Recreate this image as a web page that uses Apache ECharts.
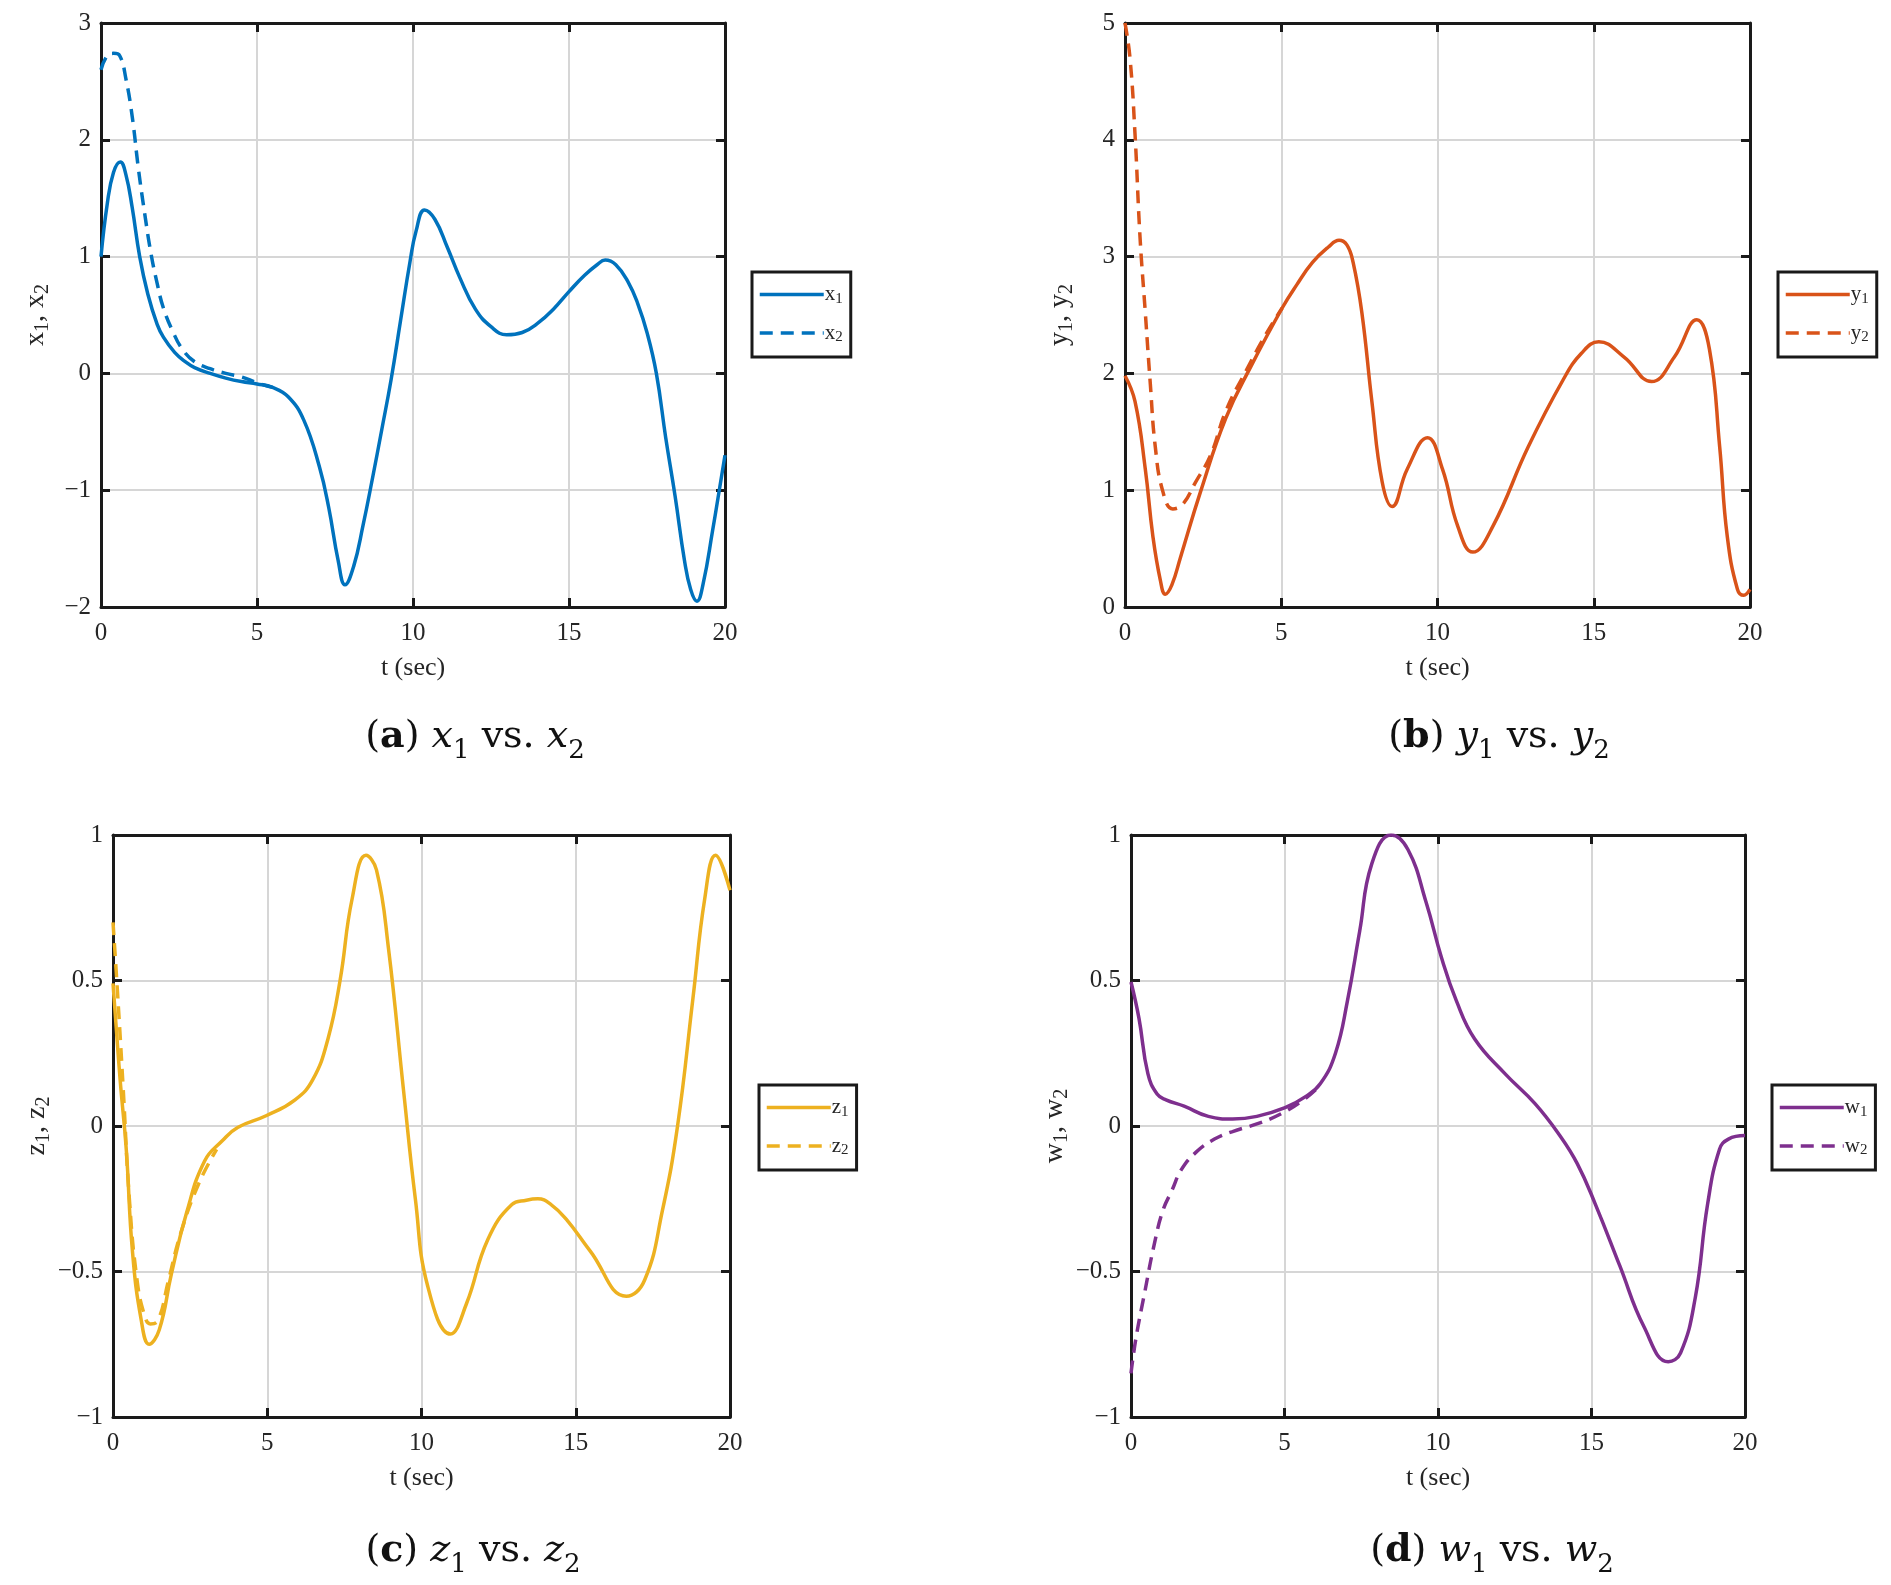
<!DOCTYPE html>
<html>
<head>
<meta charset="utf-8">
<title>x, y, z, w responses</title>
<script src="https://cdn.jsdelivr.net/npm/echarts@6/dist/echarts.min.js"></script>
<style>
  html, body { margin: 0; padding: 0; background: #fff; }
  #chart { width: 1891px; height: 1585px; }
</style>
</head>
<body>
<div id="chart"></div>
<script>
// ---- data (t in sec) ----
var tX1 = [0, 0.2, 0.4, 0.62, 0.8, 1.0, 1.24, 1.5, 1.8, 2.0, 2.36, 2.7, 3.0, 3.5, 4.0, 4.5, 5.0, 5.5, 6.0, 6.5, 7.0, 7.3, 7.6, 7.82, 8.1, 8.4, 8.7, 9.0, 9.3, 9.6, 9.9, 10.1, 10.37, 10.7, 11.1, 11.5, 12.0, 12.5, 13.0, 13.5, 14.0, 14.5, 15.0, 15.5, 15.9, 16.16, 16.5, 16.9, 17.2, 17.5, 17.8, 18.1, 18.4, 18.7, 18.9, 19.1, 19.3, 19.6, 20];
var x1  = [1.0, 1.45, 1.72, 1.81, 1.7, 1.42, 1.0, 0.68, 0.42, 0.31, 0.18, 0.1, 0.05, 0.0, -0.04, -0.07, -0.09, -0.12, -0.2, -0.4, -0.8, -1.15, -1.6, -1.81, -1.65, -1.3, -0.9, -0.48, -0.05, 0.45, 0.95, 1.22, 1.4, 1.32, 1.08, 0.82, 0.55, 0.4, 0.33, 0.35, 0.43, 0.55, 0.7, 0.84, 0.93, 0.97, 0.93, 0.78, 0.6, 0.35, 0.0, -0.55, -1.05, -1.6, -1.85, -1.95, -1.8, -1.35, -0.7];
var tX2 = [0, 0.2, 0.4, 0.6, 0.8, 1.0, 1.2, 1.4, 1.6, 1.8, 2.0, 2.3, 2.6, 3.0, 3.5, 4.0, 4.5, 5.0, 5.5];
var x2  = [2.6, 2.72, 2.74, 2.72, 2.52, 2.2, 1.75, 1.37, 1.03, 0.77, 0.56, 0.36, 0.21, 0.1, 0.04, 0.0, -0.03, -0.08, -0.12];

var tY1 = [0, 0.32, 0.65, 0.89, 1.13, 1.29, 1.5, 1.77, 2.42, 3.23, 4.03, 5.03, 5.5, 6.0, 6.5, 6.85, 7.1, 7.3, 7.58, 7.9, 8.23, 8.55, 9.03, 9.68, 10.16, 10.65, 11.13, 11.77, 12.9, 14.03, 14.6, 15.16, 15.97, 16.85, 17.58, 18.3, 18.7, 19.03, 19.27, 19.6, 19.8, 20];
var y1  = [1.98, 1.76, 1.18, 0.61, 0.23, 0.11, 0.19, 0.42, 0.99, 1.62, 2.06, 2.56, 2.76, 2.95, 3.08, 3.14, 3.1, 2.95, 2.52, 1.76, 1.07, 0.86, 1.18, 1.45, 1.18, 0.69, 0.47, 0.69, 1.37, 1.95, 2.17, 2.27, 2.14, 1.93, 2.14, 2.46, 2.21, 1.37, 0.61, 0.15, 0.1, 0.15];
var tY2 = [0, 0.16, 0.32, 0.48, 0.65, 0.81, 0.97, 1.21, 1.53, 1.85, 2.26, 2.74, 3.23, 3.87, 4.5, 5.03];
var y2  = [5.0, 4.7, 4.05, 3.17, 2.52, 1.91, 1.37, 0.99, 0.84, 0.88, 1.07, 1.3, 1.68, 2.02, 2.33, 2.56];

var tZ1 = [0, 0.23, 0.43, 0.63, 0.92, 1.17, 1.5, 1.89, 2.38, 2.97, 3.55, 4.04, 4.98, 5.9, 6.48, 6.97, 7.36, 7.75, 8.2, 8.54, 8.93, 9.41, 9.8, 10.2, 10.94, 11.46, 12.15, 12.93, 13.4, 13.77, 14.2, 14.69, 15.47, 16.64, 17.23, 17.81, 18.3, 18.8, 19.18, 19.53, 20];
var z1  = [0.49, 0.16, -0.08, -0.43, -0.67, -0.75, -0.7, -0.51, -0.3, -0.12, -0.05, -0.005, 0.036, 0.09, 0.16, 0.3, 0.5, 0.78, 0.93, 0.88, 0.61, 0.13, -0.25, -0.55, -0.715, -0.61, -0.39, -0.27, -0.255, -0.25, -0.27, -0.32, -0.43, -0.585, -0.53, -0.29, 0.0, 0.44, 0.78, 0.93, 0.81];
var tZ2 = [0, 0.14, 0.33, 0.53, 0.78, 1.02, 1.21, 1.45, 1.8, 2.19, 2.77, 3.36];
var z2  = [0.7, 0.47, 0.13, -0.25, -0.53, -0.65, -0.68, -0.67, -0.53, -0.37, -0.2, -0.08];

var tW1 = [0, 0.26, 0.55, 0.85, 1.14, 1.73, 2.52, 3.31, 4.1, 5.02, 5.67, 6.17, 6.66, 7.05, 7.45, 7.84, 8.47, 9.02, 9.61, 10.11, 10.6, 11.19, 12.18, 13.16, 13.95, 14.54, 15.13, 15.92, 16.71, 17.5, 17.9, 18.38, 18.78, 19.17, 19.46, 20];
var w1  = [0.495, 0.37, 0.18, 0.11, 0.09, 0.068, 0.033, 0.024, 0.033, 0.063, 0.1, 0.146, 0.25, 0.43, 0.67, 0.9, 1.0, 0.95, 0.77, 0.58, 0.43, 0.3, 0.18, 0.077, -0.03, -0.13, -0.27, -0.48, -0.69, -0.81, -0.78, -0.59, -0.27, -0.08, -0.045, -0.033];
var tW2 = [0, 0.16, 0.45, 0.75, 1.04, 1.34, 1.64, 2.13, 2.72, 3.31, 4.1, 4.89, 5.67, 6.07];
var w2  = [-0.85, -0.73, -0.57, -0.41, -0.29, -0.22, -0.15, -0.089, -0.045, -0.019, 0.007, 0.042, 0.094, 0.13];

var tTicks = [0, 20, 5];              // min, max, step of t axis
var yRanges = [[-2, 3, 1], [0, 5, 1], [-1, 1, 0.5], [-1, 1, 0.5]];
var letters = ['x', 'y', 'z', 'w'];
var colors = ['#0072BD', '#D95319', '#EDB120', '#7E2F8E'];

var panels = [
    { s1: [tX1, x1], s2: [tX2, x2], grid: { left: 101, top: 23, width: 624, height: 584 }, legend: [752, 272], caption: [470, 705] },
    { s1: [tY1, y1], s2: [tY2, y2], grid: { left: 1125, top: 23, width: 625, height: 584 }, legend: [1778, 272], caption: [1494, 705] },
    { s1: [tZ1, z1], s2: [tZ2, z2], grid: { left: 113, top: 835, width: 617, height: 582 }, legend: [759, 1085], caption: [468, 1519] },
    { s1: [tW1, w1], s2: [tW2, w2], grid: { left: 1131, top: 835, width: 614, height: 582 }, legend: [1772, 1085], caption: [1487, 1519] }
];

var FONT = 'Liberation Serif';
var CAP = 'DejaVu Serif';
var INK = '#262626';

function pairs(t, v) {
    return t.map(function (s, i) { return [s, v[i]]; });
}
function minus(v) {
    return v < 0 ? '\u2212' + Math.abs(v) : String(v);
}
function capStyle(extra) {
    var s = { color: '#111', fontFamily: CAP, fontSize: 38, fontWeight: 'normal', lineHeight: 54 };
    for (var k in extra) s[k] = extra[k];
    return s;
}

var option = {
    backgroundColor: '#fff',
    animation: false,
    grid: [], xAxis: [], yAxis: [], series: [], legend: [], title: []
};

panels.forEach(function (p, i) {
    var L = letters[i], c = colors[i], yr = yRanges[i];
    option.grid.push(p.grid);

    var boxLine = { show: true, onZero: false, lineStyle: { color: '#1a1a1a', width: 3 } };
    var tick = { show: true, inside: true, length: 9, lineStyle: { color: '#1a1a1a', width: 3 } };
    var split = { show: true, lineStyle: { color: '#d6d6d6', width: 2 } };

    // bottom t axis + mirrored top
    option.xAxis.push({
        type: 'value', gridIndex: i, position: 'bottom', min: tTicks[0], max: tTicks[1], interval: tTicks[2],
        axisLine: boxLine, axisTick: tick, splitLine: split,
        axisLabel: { color: INK, fontFamily: FONT, fontSize: 25, margin: 14 },
        name: 't (sec)', nameLocation: 'middle', nameGap: 48,
        nameTextStyle: { color: INK, fontFamily: FONT, fontSize: 26 }
    });
    option.xAxis.push({
        type: 'value', gridIndex: i, position: 'top', min: tTicks[0], max: tTicks[1], interval: tTicks[2],
        axisLine: boxLine, axisTick: tick, splitLine: { show: false }, axisLabel: { show: false }
    });
    // left value axis + mirrored right
    option.yAxis.push({
        type: 'value', gridIndex: i, position: 'left', min: yr[0], max: yr[1], interval: yr[2],
        axisLine: boxLine, axisTick: tick, splitLine: split,
        axisLabel: { color: INK, fontFamily: FONT, fontSize: 25, margin: 10, formatter: minus },
        name: '{m|' + L + '}{s|1}{m|, ' + L + '}{s|2}', nameLocation: 'middle', nameRotate: 90, nameGap: 48,
        nameTextStyle: {
            color: INK, fontFamily: FONT, fontSize: 28,
            rich: {
                m: { color: INK, fontFamily: FONT, fontSize: 28, lineHeight: 34 },
                s: { color: INK, fontFamily: FONT, fontSize: 20, lineHeight: 34, verticalAlign: 'bottom' }
            }
        }
    });
    option.yAxis.push({
        type: 'value', gridIndex: i, position: 'right', min: yr[0], max: yr[1], interval: yr[2],
        axisLine: boxLine, axisTick: tick, splitLine: { show: false }, axisLabel: { show: false }
    });

    option.series.push({
        name: L + '1', type: 'line', xAxisIndex: 2 * i, yAxisIndex: 2 * i,
        data: pairs(p.s1[0], p.s1[1]), smooth: 0.45, symbol: 'none', z: 3,
        lineStyle: { color: c, width: 3.5 }, itemStyle: { color: c }
    });
    option.series.push({
        name: L + '2', type: 'line', xAxisIndex: 2 * i, yAxisIndex: 2 * i,
        data: pairs(p.s2[0], p.s2[1]), smooth: 0.45, symbol: 'none', z: 2,
        lineStyle: { color: c, width: 3.5, type: [13, 8] }, itemStyle: { color: c }
    });

    option.legend.push({
        data: [L + '1', L + '2'], orient: 'vertical', left: p.legend[0], top: p.legend[1],
        itemWidth: 64, itemHeight: 14, itemGap: 16,
        padding: [12, 8, 12, 6], borderColor: '#1a1a1a', borderWidth: 3, backgroundColor: '#fff',
        selectedMode: false,
        itemStyle: { opacity: 0, borderWidth: 0 },
        lineStyle: { width: 3.5 },
        formatter: function (name) { return '{m|' + name.charAt(0) + '}{s|' + name.charAt(1) + '}'; },
        textStyle: {
            color: INK, fontFamily: FONT, fontSize: 21, padding: [0, 0, 0, -4],
            rich: {
                m: { color: INK, fontFamily: FONT, fontSize: 21, lineHeight: 24 },
                s: { color: INK, fontFamily: FONT, fontSize: 15, lineHeight: 24, verticalAlign: 'bottom' }
            }
        }
    });

    option.title.push({
        left: p.caption[0], top: p.caption[1], textAlign: 'center',
        text: '{p|(}{b|' + String.fromCharCode(97 + i) + '}{p|) }{i|' + L + '}{s|1}{p| vs. }{i|' + L + '}{s|2}',
        textStyle: {
            color: '#111', fontFamily: CAP, fontSize: 38, fontWeight: 'normal',
            rich: {
                p: capStyle({}),
                b: capStyle({ fontWeight: 'bold' }),
                i: capStyle({ fontStyle: 'italic' }),
                s: capStyle({ fontSize: 26, verticalAlign: 'bottom' })
            }
        }
    });
});

var myChart = echarts.init(document.getElementById('chart'));
myChart.setOption(option);
</script>
</body>
</html>
